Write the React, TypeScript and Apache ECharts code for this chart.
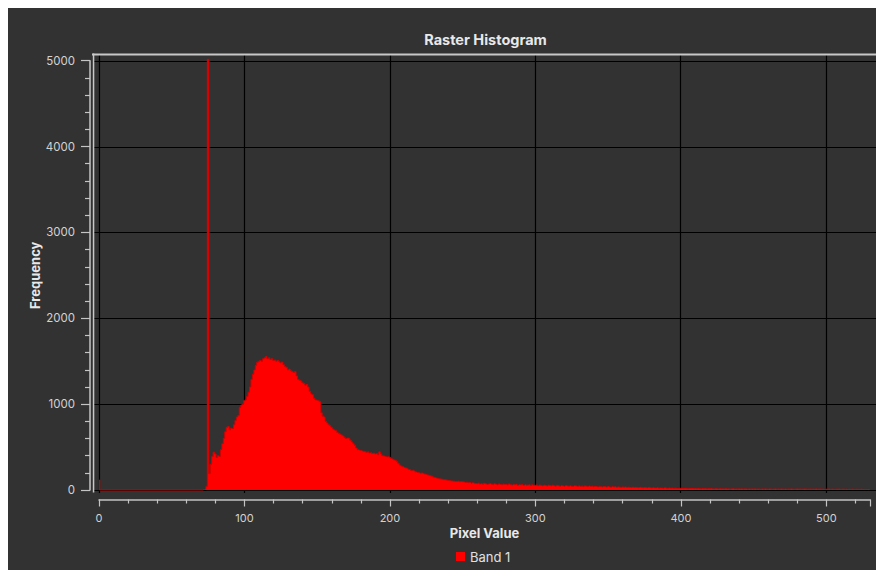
import React, { useEffect, useRef } from 'react';
import * as echarts from 'echarts';

// Histogram counts, one per pixel value starting at firstBin
const firstBin = 0;
const counts = [
  115, 0, 0, 0, 0, 0, 0, 0, 0, 0,
  0, 0, 0, 0, 0, 0, 0, 0, 0, 0,
  0, 0, 0, 0, 0, 0, 0, 0, 0, 0,
  0, 0, 0, 0, 0, 0, 0, 0, 0, 0,
  0, 0, 0, 0, 0, 0, 0, 0, 0, 0,
  0, 0, 0, 0, 0, 0, 0, 0, 0, 0,
  0, 0, 0, 0, 0, 0, 0, 0, 0, 0,
  0, 0, 5, 12, 40, 5020, 190, 300, 390, 440,
  420, 380, 400, 390, 470, 540, 600, 680, 730, 740,
  700, 720, 715, 760, 810, 850, 870, 960, 990, 1000,
  1040, 1050, 1090, 1140, 1200, 1290, 1350, 1400, 1450, 1490,
  1500, 1510, 1500, 1530, 1540, 1555, 1530, 1540, 1520, 1530,
  1510, 1515, 1500, 1510, 1495, 1480, 1490, 1460, 1440, 1430,
  1400, 1410, 1390, 1380, 1370, 1380, 1330, 1290, 1280, 1270,
  1250, 1240, 1220, 1230, 1200, 1150, 1120, 1110, 1070, 1050,
  1045, 1040, 1030, 900, 860, 850, 800, 780, 760, 750,
  730, 710, 700, 690, 670, 660, 650, 640, 630, 610,
  600, 605, 600, 580, 560, 540, 520, 490, 470, 465,
  460, 455, 450, 450, 440, 445, 430, 435, 425, 430,
  420, 425, 410, 445, 420, 400, 395, 390, 385, 388,
  380, 370, 360, 350, 345, 330, 310, 290, 280, 270,
  262, 255, 250, 240, 235, 225, 230, 220, 210, 205,
  200, 195, 198, 194, 185, 180, 175, 170, 165, 160,
  150, 145, 140, 135, 130, 128, 125, 120, 118, 116,
  112, 110, 106, 104, 102, 100, 98, 102, 96, 99,
  97, 92, 88, 90, 85, 87, 80, 84, 78, 76,
  74, 80, 69, 73, 66, 77, 71, 64, 70, 75,
  67, 62, 72, 66, 59, 70, 64, 61, 68, 63,
  65, 58, 69, 61, 57, 64, 60, 66, 55, 62,
  59, 63, 54, 61, 56, 58, 62, 51, 60, 55,
  53, 59, 50, 57, 52, 48, 56, 53, 47, 55,
  51, 46, 56, 49, 45, 54, 50, 44, 52, 48,
  43, 51, 47, 45, 50, 44, 41, 49, 46, 40,
  48, 42, 45, 39, 47, 43, 38, 46, 41, 44,
  37, 43, 40, 36, 42, 39, 35, 41, 38, 34,
  40, 36, 33, 39, 35, 37, 31, 36, 33, 30,
  35, 32, 34, 29, 33, 30, 27, 32, 29, 31,
  28, 26, 31, 27, 25, 29, 26, 24, 28, 25,
  23, 27, 24, 22, 26, 21, 24, 22, 20, 25,
  21, 19, 23, 20, 22, 18, 21, 19, 17, 20,
  18, 20, 16, 19, 17, 15, 18, 16, 19, 15,
  17, 14, 16, 15, 13, 17, 14, 16, 12, 15,
  14, 16, 13, 12, 15, 13, 11, 14, 12, 13,
  12, 14, 11, 13, 10, 12, 14, 11, 12, 10,
  13, 11, 12, 10, 12, 11, 9, 12, 10, 11,
  10, 12, 9, 11, 10, 8, 11, 9, 12, 10,
  9, 11, 10, 8, 10, 12, 9, 10, 8, 11,
  10, 9, 11, 8, 10, 9, 12, 10, 8, 9,
  11, 9, 10, 8, 9, 11, 10, 8, 9, 10,
  8, 10, 9, 11, 8, 9, 10, 8, 9, 7,
  9, 8, 10, 7, 9, 8, 7, 9, 8, 10,
  7, 8, 9, 7, 8, 6, 8, 7, 9, 7,
  6, 8, 7, 6, 8, 7, 5, 7, 6, 5,
  5,
];

const seriesName = 'Band 1';
const titleText = 'Raster Histogram';
const xAxisName = 'Pixel Value';
const yAxisName = 'Frequency';
const xGridValues = [0, 100, 200, 300, 400, 500];
const yGridValues = [0, 1000, 2000, 3000, 4000, 5000];
const xAxisRange = [0, 530];
const yAxisRange = [0, 5000];
const plotXRange = [-4.13, 535.1];
const plotYRange = [-35, 5070];

const BG = '#323232';
const AXIS = '#c4c4c4';
const LABEL = '#d2d2d2';
const TITLE = '#e8e8e8';
const RED = '#ff0000';
const FONT = 'Inter';

export default function App() {
  const ref = useRef<HTMLDivElement>(null);

  useEffect(() => {
    if (!ref.current) return;
    const chart = echarts.init(ref.current, null, { renderer: 'svg' });
    const data = counts.map((c, i) => [firstBin + i, c]);
    const gridMarks = [
      ...xGridValues.map((v) => ({ xAxis: v })),
      ...yGridValues.map((v) => ({ yAxis: v })),
    ];
    const plain = (v: number) => String(v);

    chart.setOption({
      animation: false,
      backgroundColor: BG,
      textStyle: { fontFamily: FONT },
      title: {
        text: titleText,
        left: 477.5,
        top: 24,
        padding: 0,
        textAlign: 'center',
        textStyle: { color: TITLE, fontSize: 14.5, fontWeight: 'bold', fontFamily: FONT },
      },
      legend: {
        data: [seriesName],
        left: 448,
        top: 542,
        padding: 0,
        icon: 'rect',
        itemWidth: 9,
        itemHeight: 9,
        itemGap: 10,
        textStyle: { color: '#e0e0e0', fontSize: 13, fontFamily: FONT },
      },
      grid: [
        { left: 85, top: 47, width: 784, height: 438 },
        { left: 91, top: 490.5, width: 771, height: 1 },
        { left: 82, top: 52.7, width: 1, height: 429.3 },
      ],
      xAxis: [
        { gridIndex: 0, type: 'value', min: plotXRange[0], max: plotXRange[1], show: false },
        {
          gridIndex: 1,
          type: 'value',
          min: xAxisRange[0],
          max: xAxisRange[1],
          interval: 100,
          position: 'bottom',
          axisLine: { show: true, lineStyle: { color: AXIS, width: 1.5 } },
          axisTick: { show: true, length: 7, lineStyle: { color: AXIS, width: 1.2 } },
          minorTick: { show: true, splitNumber: 5, length: 4, lineStyle: { color: AXIS, width: 1.2 } },
          splitLine: { show: false },
          axisLabel: {
            color: LABEL,
            fontSize: 11,
            margin: 13,
            fontFamily: FONT,
            showMaxLabel: false,
            formatter: plain,
          },
          name: xAxisName,
          nameLocation: 'middle',
          nameGap: 27,
          nameTextStyle: { color: TITLE, fontSize: 13, fontWeight: 'bold', fontFamily: FONT },
        },
        { gridIndex: 2, type: 'value', show: false },
      ],
      yAxis: [
        { gridIndex: 0, type: 'value', min: plotYRange[0], max: plotYRange[1], show: false },
        { gridIndex: 1, type: 'value', show: false },
        {
          gridIndex: 2,
          type: 'value',
          min: yAxisRange[0],
          max: yAxisRange[1],
          interval: 1000,
          position: 'left',
          axisLine: { show: true, lineStyle: { color: AXIS, width: 1.5 } },
          axisTick: { show: true, length: 9, lineStyle: { color: AXIS, width: 1.2 } },
          minorTick: { show: true, splitNumber: 5, length: 5, lineStyle: { color: AXIS, width: 1.2 } },
          splitLine: { show: false },
          axisLabel: { color: LABEL, fontSize: 11.5, margin: 15, fontFamily: FONT, formatter: plain },
          name: yAxisName,
          nameLocation: 'middle',
          nameGap: 46,
          nameTextStyle: { color: TITLE, fontSize: 13, fontWeight: 'bold', fontFamily: FONT },
        },
      ],
      series: [
        {
          name: 'grid',
          type: 'line',
          xAxisIndex: 0,
          yAxisIndex: 0,
          data: [],
          silent: true,
          markLine: {
            silent: true,
            symbol: 'none',
            label: { show: false },
            lineStyle: { color: '#000000', width: 1.2, type: 'solid' },
            emphasis: { disabled: true },
            data: gridMarks,
          },
        },
        {
          name: seriesName,
          type: 'line',
          xAxisIndex: 0,
          yAxisIndex: 0,
          z: 10,
          step: 'middle',
          showSymbol: false,
          symbol: 'none',
          data,
          itemStyle: { color: RED },
          lineStyle: { color: '#d80000', width: 1 },
          areaStyle: { color: RED, opacity: 1 },
          clip: true,
        },
      ],
      graphic: [
        { type: 'rect', silent: true, z: 100, shape: { x: 84, y: 45.5, width: 785, height: 2 }, style: { fill: '#c8c8c8' } },
        { type: 'rect', silent: true, z: 100, shape: { x: 84.8, y: 45.5, width: 1.5, height: 439 }, style: { fill: '#c8c8c8' } },
      ],
    });

    return () => chart.dispose();
  }, []);

  return <div ref={ref} style={{ width: 876, height: 562, background: BG }} />;
}
